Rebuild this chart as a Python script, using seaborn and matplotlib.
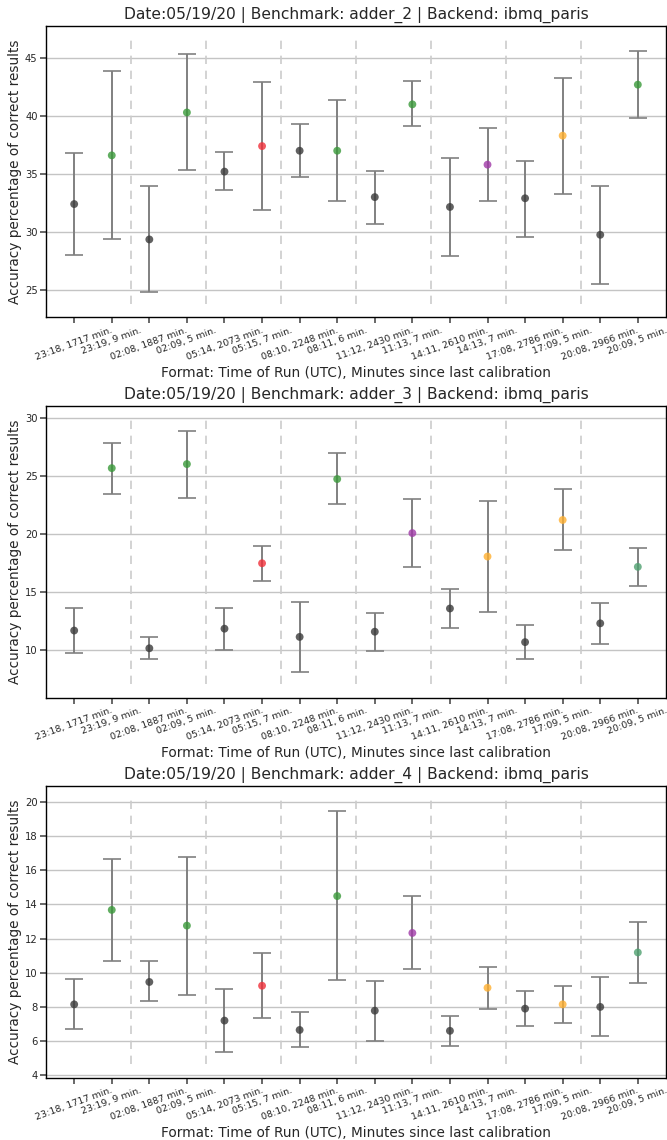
import numpy as np
import pandas as pd
import matplotlib.pyplot as plt
import seaborn as sns

# x-axis categories: time of run (UTC), minutes since last calibration
run_labels = ['23:18, 1717 min.', '23:19, 9 min.', '02:08, 1887 min.', '02:09, 5 min.',
              '05:14, 2073 min.', '05:15, 7 min.', '08:10, 2248 min.', '08:11, 6 min.',
              '11:12, 2430 min.', '11:13, 7 min.', '14:11, 2610 min.', '14:13, 7 min.',
              '17:08, 2786 min.', '17:09, 5 min.', '20:08, 2966 min.', '20:09, 5 min.']

benchmarks = ['adder_2', 'adder_3', 'adder_4']

# accuracy (%) with lower / upper bounds of the error bars
adder_2_acc = [32.4, 36.6, 29.35, 40.3, 35.2, 37.4, 37.0, 37.0,
               33.0, 41.0, 32.15, 35.8, 32.9, 38.3, 29.75, 42.7]
adder_2_low = [28.0, 29.4, 24.8, 35.35, 33.6, 31.9, 34.7, 32.7,
               30.7, 39.1, 27.9, 32.7, 29.6, 33.3, 25.5, 39.8]
adder_2_high = [36.8, 43.9, 34.0, 45.3, 36.85, 42.9, 39.3, 41.35,
                35.25, 43.0, 36.4, 38.95, 36.15, 43.25, 34.0, 45.6]
adder_2_col = ['black', 'green', 'black', 'green', 'black', 'red', 'black', 'green',
               'black', 'green', 'black', 'purple', 'black', 'orange', 'black', 'green']

adder_3_acc = [11.7, 25.7, 10.17, 26.05, 11.86, 17.5, 11.15, 24.76,
               11.6, 20.1, 13.6, 18.08, 10.7, 21.23, 12.32, 17.19]
adder_3_low = [9.77, 23.5, 9.23, 23.15, 10.0, 16.0, 8.11, 22.6,
               9.94, 17.2, 11.9, 13.27, 9.23, 18.6, 10.57, 15.5]
adder_3_high = [13.6, 27.88, 11.12, 28.9, 13.67, 19.03, 14.18, 27.0,
                13.18, 23.0, 15.27, 22.84, 12.15, 23.9, 14.07, 18.85]
adder_3_col = ['black', 'green', 'black', 'green', 'black', 'red', 'black', 'green',
               'black', 'purple', 'black', 'orange', 'black', 'orange', 'black', 'seagreen']

adder_4_acc = [8.15, 13.68, 9.46, 12.76, 7.2, 9.24, 6.65, 14.49,
               7.78, 12.33, 6.6, 9.12, 7.9, 8.15, 8.0, 11.19]
adder_4_low = [6.7, 10.66, 8.33, 8.7, 5.35, 7.35, 5.68, 9.57,
               6.0, 10.21, 5.7, 7.9, 6.87, 7.08, 6.28, 9.4]
adder_4_high = [9.65, 16.65, 10.66, 16.75, 9.07, 11.13, 7.68, 19.47,
                9.51, 14.5, 7.45, 10.31, 8.93, 9.24, 9.73, 13.0]
adder_4_col = ['black', 'green', 'black', 'green', 'black', 'red', 'black', 'green',
               'black', 'purple', 'black', 'orange', 'black', 'orange', 'black', 'seagreen']

palette = {'black': '#3a3a3a', 'green': '#3a9a3a', 'seagreen': '#4fa070',
           'red': '#f0303a', 'purple': '#a03aa8', 'orange': '#ffb030'}

panels = [
    (adder_2_acc, adder_2_low, adder_2_high, adder_2_col),
    (adder_3_acc, adder_3_low, adder_3_high, adder_3_col),
    (adder_4_acc, adder_4_low, adder_4_high, adder_4_col),
]

sns.set_theme(style='ticks')
plt.rcParams['font.family'] = ['DejaVu Sans']

W, H = 667, 1140
fig = plt.figure(figsize=(W / 100, H / 100), dpi=100)

for i, (acc, low, high, col) in enumerate(panels):
    top = 25.7 + 380 * i
    bottom = 317.5 + 380 * i
    ax = fig.add_axes([46 / W, 1 - bottom / H, 620 / W, (bottom - top) / H])

    df = pd.DataFrame({'run': run_labels, 'acc': acc, 'low': low,
                       'high': high, 'col': col})
    yerr = np.vstack([df['acc'] - df['low'], df['high'] - df['acc']])

    ax.errorbar(df['run'], df['acc'], yerr=yerr, fmt='none', ecolor='#808080',
                elinewidth=1.4, capsize=6.5, capthick=1.2, zorder=2)
    sns.scatterplot(data=df, x='run', y='acc', hue='col', palette=palette,
                    s=32, alpha=0.8, edgecolor='none', legend=False, ax=ax, zorder=3)

    # dashed separators between the run pairs
    ymin, ymax = ax.get_ylim()
    ax.vlines(np.arange(1.5, len(run_labels) - 1, 2), ymin, ymax,
              colors='#cccccc', linestyles=(0, (5, 4)), linewidth=1.2, zorder=1)

    ax.yaxis.grid(True, color='#c4c4c4', linewidth=1.0, zorder=0)
    ax.set_axisbelow(True)
    for sp in ax.spines.values():
        sp.set_color('black')
        sp.set_linewidth(1.0)

    ax.tick_params(axis='x', labelsize=6.8, length=4, color='#555555', pad=2)
    ax.tick_params(axis='y', labelsize=7.2, length=4, color='#555555', pad=2)
    plt.setp(ax.get_xticklabels(), rotation=20, ha='center')

    ax.set_title(f'Date:05/19/20 | Benchmark: {benchmarks[i]} | Backend: ibmq_paris',
                 fontsize=11.2, pad=5)
    ax.set_xlabel('Format: Time of Run (UTC), Minutes since last calibration',
                  fontsize=9.8, labelpad=3)
    ax.set_ylabel('Accuracy percentage of correct results', fontsize=9.8, labelpad=2)

fig.savefig('out.png', dpi=100)
